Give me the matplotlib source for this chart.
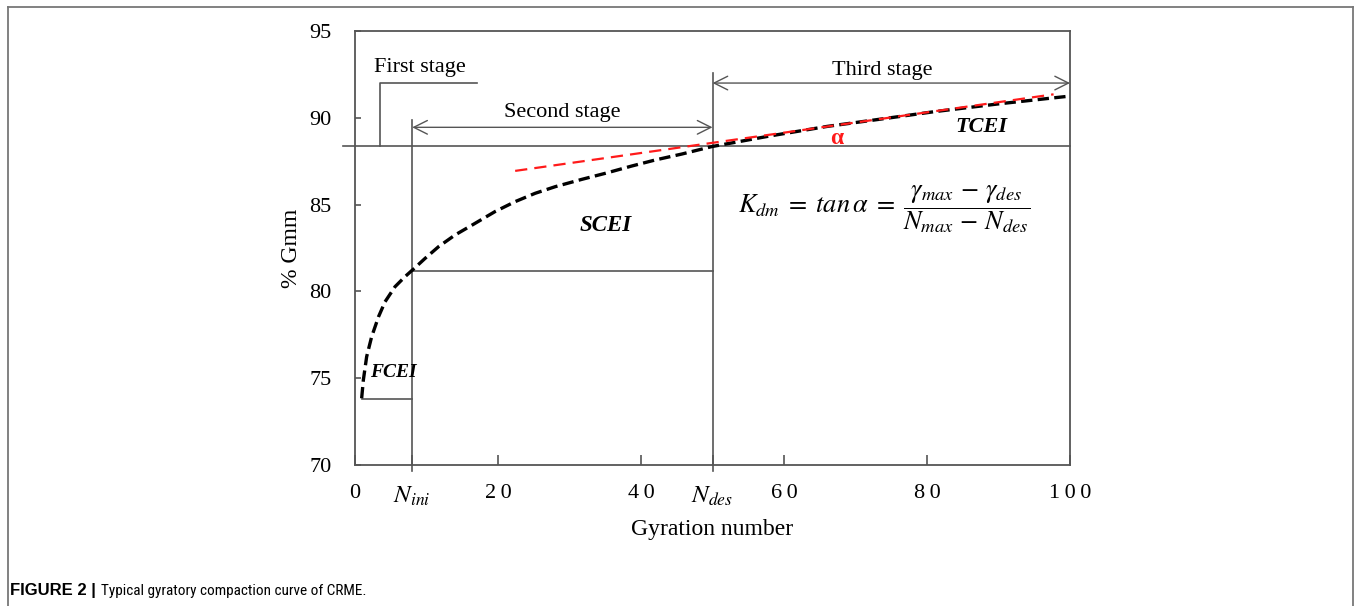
import matplotlib
matplotlib.use('Agg')
import matplotlib.pyplot as plt
from matplotlib.lines import Line2D
from matplotlib.patches import FancyArrowPatch

plt.rcParams['font.family'] = ['Liberation Serif', 'DejaVu Serif']
plt.rcParams['mathtext.fontset'] = 'stix'

# Кривая уплотнения
gyrations = [0.93, 1.17, 1.63, 2.33, 3.3, 4.2, 5.6, 7.0, 8.3, 9.8, 11.7, 14.0,
             16.3, 19.6, 22.4, 25.2, 28, 31.7, 35, 38.7, 42, 45.7, 49.9,
             58, 66, 74, 81, 90, 100]
gmm = [73.84, 74.9, 76.24, 77.39, 78.55, 79.4, 80.27, 80.85, 81.33, 81.9,
       82.58, 83.25, 83.8, 84.6, 85.17, 85.65, 86.03, 86.45, 86.8, 87.22,
       87.57, 87.91, 88.34, 88.95, 89.5, 89.95, 90.35, 90.8, 91.25]

# Касательная (красная)
tangent_x = [22.4, 97.7]
tangent_y = [86.94, 91.35]

n_ini, n_des, n_max = 8, 50, 100
g_des = 88.38       # уровень горизонтальной линии при N_des
g_ini = 81.2
g_start = 73.8

xticks = [0, n_ini, 20, 40, n_des, 60, 80, 100]
xticklabels = ['0', r'$N_{ini}$', '2\u20090', '4\u20090', r'$N_{des}$',
               '6\u20090', '8\u20090', '1\u20090\u20090']
yticks = [70, 75, 80, 85, 90, 95]

line_col = '#555555'

fig = plt.figure(figsize=(13.56, 6.06), dpi=100)
ax = fig.add_axes([0.2618, 0.2327, 0.5273, 0.7162])

ax.plot(gyrations, gmm, color='black', lw=2.4, dashes=(3.4, 1.6), zorder=5)
ax.plot(tangent_x, tangent_y, color='#ff1a1a', lw=1.6, dashes=(5.5, 3.2), zorder=6)

# вспомогательные линии
ax.plot([-1.7, n_max], [g_des, g_des], color=line_col, lw=1.2, clip_on=False)
ax.plot([n_ini, n_ini], [69.65, 89.9], color=line_col, lw=1.2, clip_on=False)
ax.plot([n_des, n_des], [69.65, 92.6], color=line_col, lw=1.2, clip_on=False)
ax.plot([n_ini, n_des], [g_ini, g_ini], color=line_col, lw=1.2)
ax.plot([1, n_ini], [g_start, g_start], color=line_col, lw=1.2)
ax.plot([3.5, 3.5, 17.1], [g_des, 92.0, 92.0], color=line_col, lw=1.2)

for x0, x1, y in [(n_ini, n_des, 89.45), (n_des, n_max, 92.0)]:
    arr = FancyArrowPatch((x0, y), (x1, y), arrowstyle='<->,head_length=0.7,head_width=0.35',
                          mutation_scale=14, color=line_col, lw=1.0,
                          shrinkA=0, shrinkB=0)
    ax.add_patch(arr)

ax.text(9.1, 92.9, 'First stage', fontsize=16, ha='center', va='center')
ax.text(29, 90.3, 'Second stage', fontsize=16, ha='center', va='center')
ax.text(73.7, 92.75, 'Third stage', fontsize=16, ha='center', va='center')

ax.text(35, 83.8, 'SCEI', fontsize=16.5, fontweight='bold', fontstyle='italic',
        ha='center', va='center')
ax.text(87.6, 89.45, 'TCEI', fontsize=16, fontweight='bold', fontstyle='italic',
        ha='center', va='center')
ax.text(5.3, 75.3, 'FCEI', fontsize=14, fontweight='bold', fontstyle='italic',
        ha='center', va='center')
ax.text(67.3, 88.8, '\u03b1', fontsize=17, fontweight='bold', color='#ff1a1a',
        ha='center', va='center')

ax.text(74, 84.75,
        r'$K_{dm}\;=\;tan\,\alpha\;=\;\dfrac{\gamma_{max}\,-\,\gamma_{des}}{N_{max}\,-\,N_{des}}$',
        fontsize=19, ha='center', va='center', math_fontfamily='stix')

ax.set_xlim(0, 100)
ax.set_ylim(70, 95)
ax.set_xticks(xticks)
ax.set_xticklabels(xticklabels)
ax.set_yticks(yticks)
ax.tick_params(axis='x', direction='in', length=7, width=1.2, color=line_col,
               labelsize=16, pad=14)
ax.tick_params(axis='y', direction='in', length=4, width=1.2, color=line_col,
               labelsize=16, pad=17)
for lbl, pos in zip(ax.get_xticklabels(), xticks):
    if pos in (n_ini, n_des):
        lbl.set_fontsize(18)
for sp in ax.spines.values():
    sp.set_color(line_col)
    sp.set_linewidth(1.3)

ax.set_xlabel('Gyration number', fontsize=17, labelpad=8)
ax.set_ylabel('% Gmm', fontsize=17, labelpad=5)

# рамка вокруг рисунка
frame_col = '#777777'
top = 1 - 6.5 / 606
lx, rx = 8 / 1356, 1353 / 1356
for xs, ys in [([lx, rx], [top, top]), ([lx, lx], [top, 0]), ([rx, rx], [top, 0])]:
    fig.add_artist(Line2D(xs, ys, color=frame_col, lw=1.3, transform=fig.transFigure))

cap_y = 1 - 591 / 606
fig.text(10 / 1356, cap_y, 'FIGURE 2 |', fontsize=12, fontweight='bold',
         family=['Liberation Sans'], va='center')
fig.text(101 / 1356, cap_y, 'Typical gyratory compaction curve of CRME.', fontsize=11,
         family=['Roboto Condensed', 'Liberation Sans'], va='center')

fig.savefig('out.png', dpi=100)
